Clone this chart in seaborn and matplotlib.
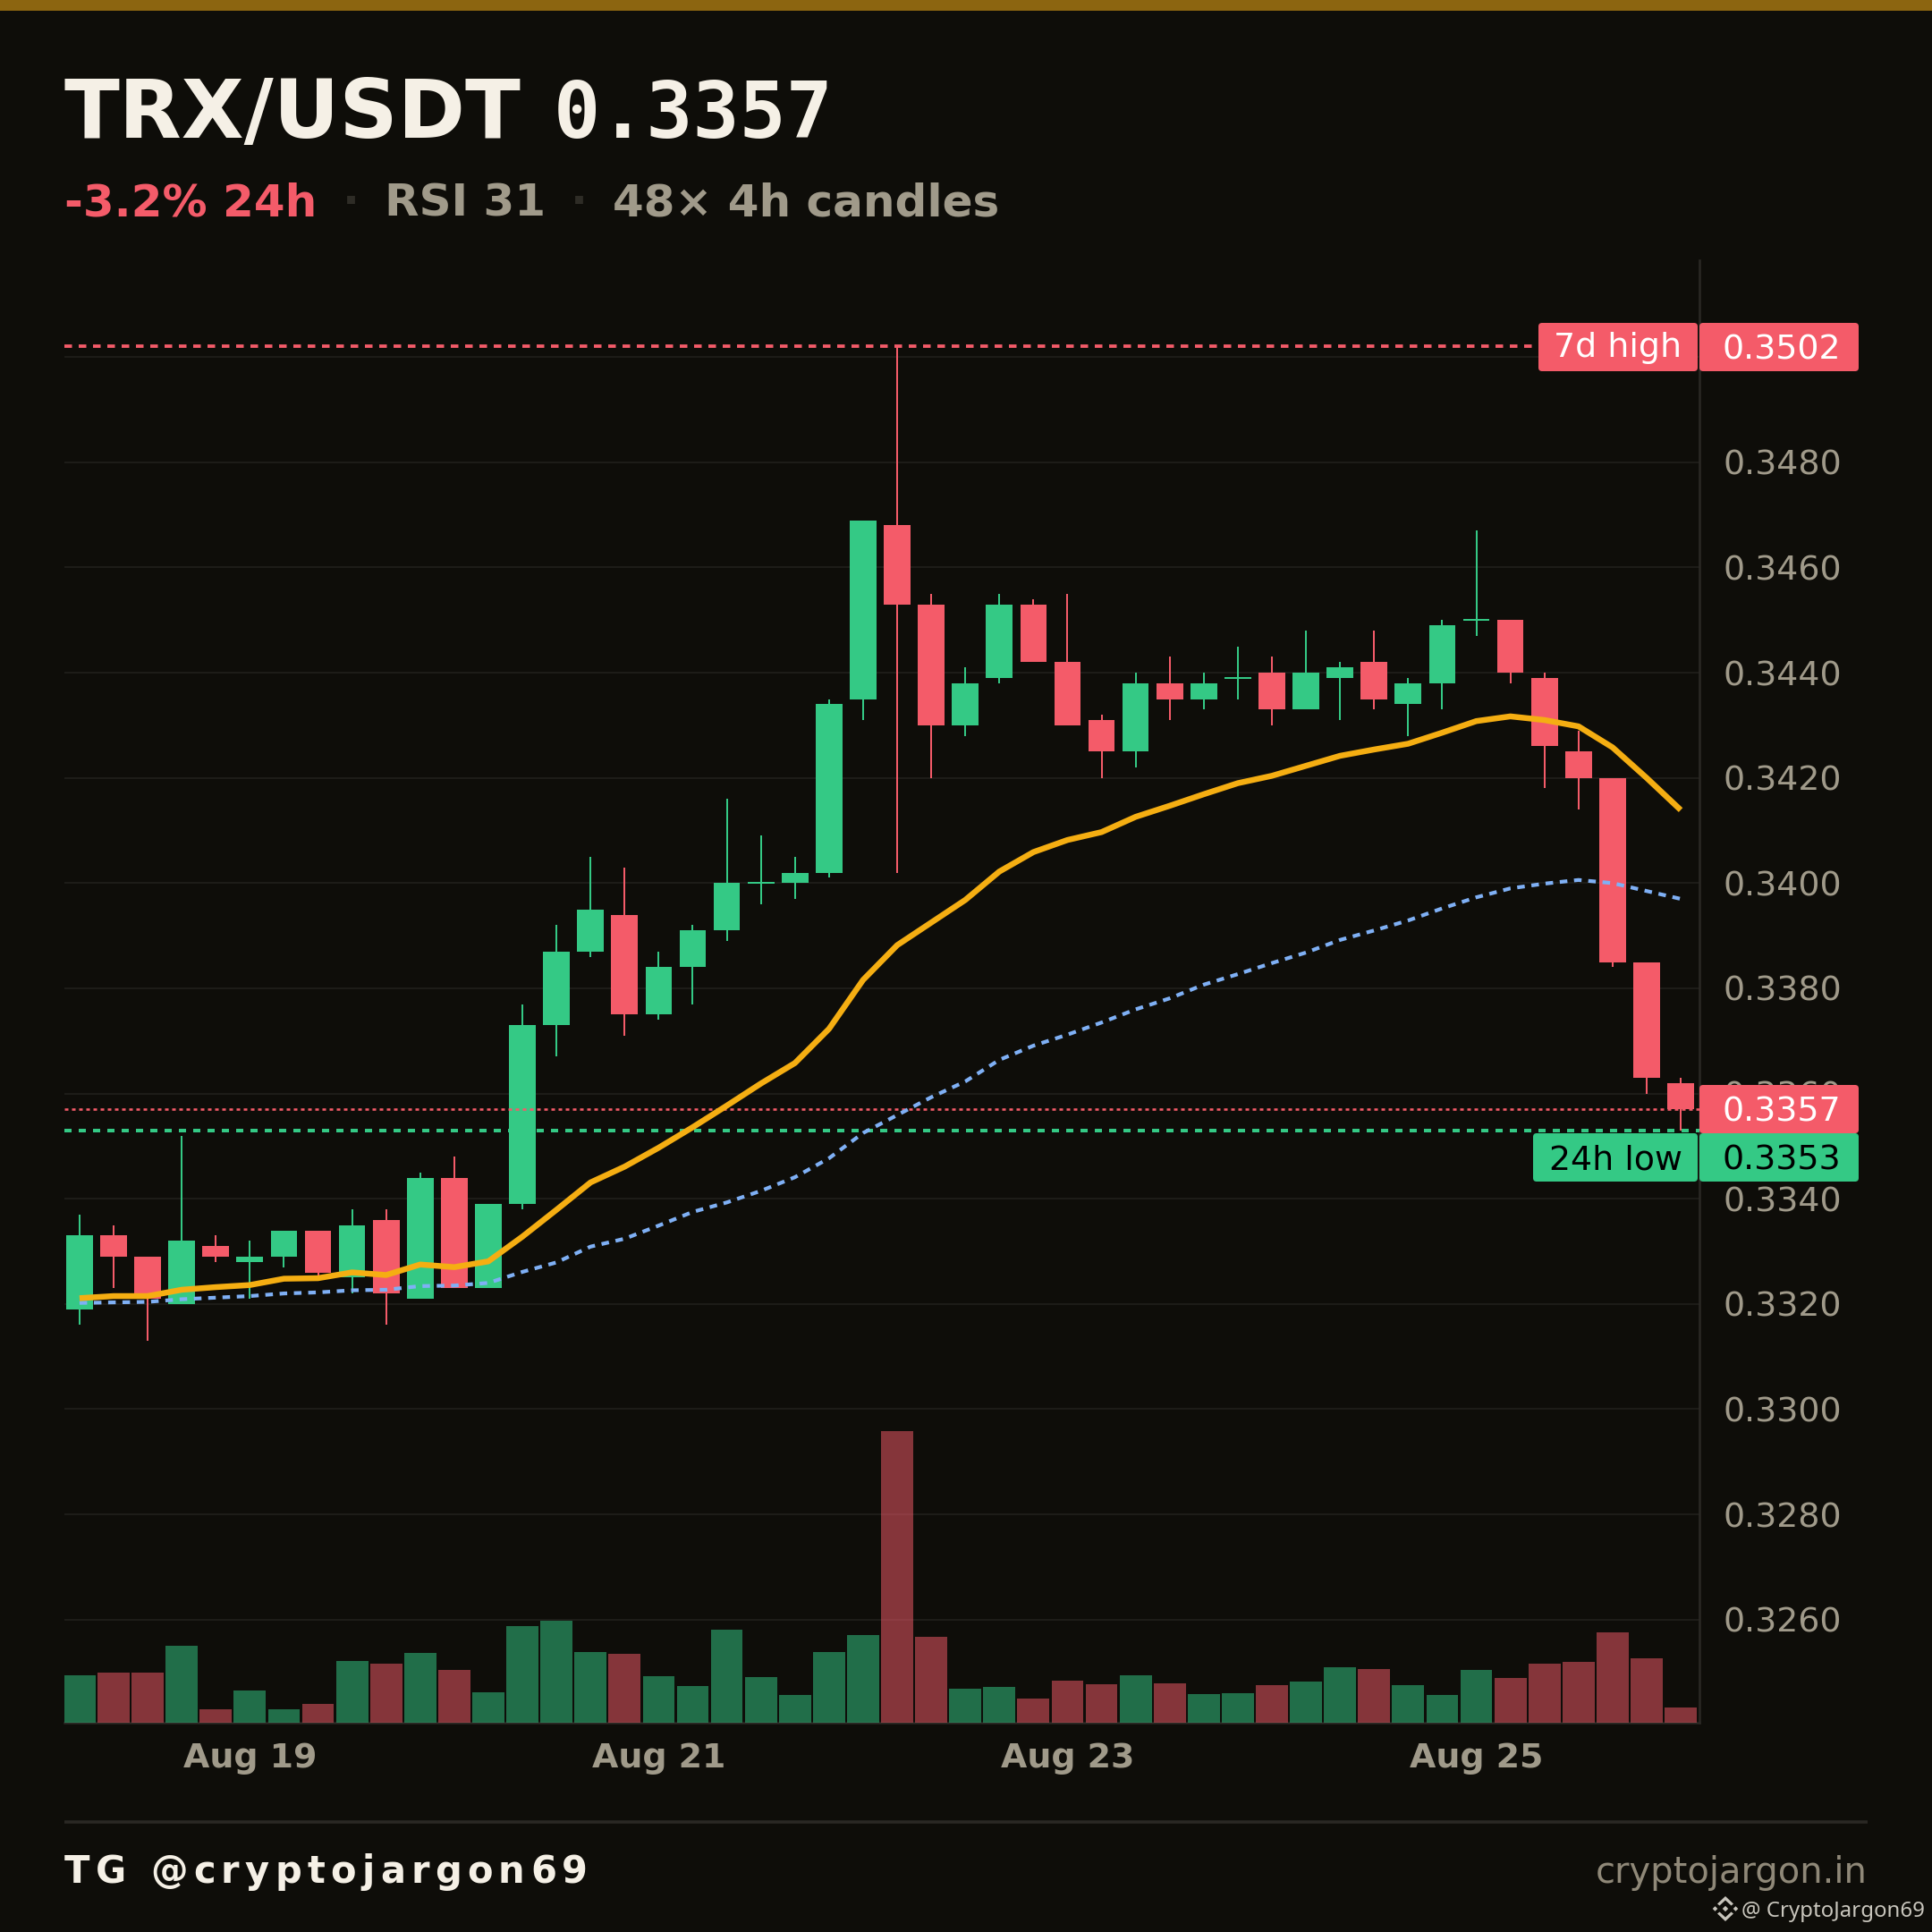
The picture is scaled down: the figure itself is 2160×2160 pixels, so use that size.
import matplotlib
matplotlib.use("Agg")
import matplotlib.pyplot as plt
import matplotlib.text as mtext
from matplotlib.patches import FancyBboxPatch, Polygon, Rectangle
from matplotlib.ticker import FuncFormatter
import pandas as pd
import seaborn as sns

# ---- data ----
opens = [0.3319,0.3333,0.3329,0.3320,0.3331,0.3328,0.3329,0.3334,0.3325,0.3336,0.3321,0.3344,
         0.3323,0.3339,0.3373,0.3387,0.3394,0.3375,0.3384,0.3391,0.3400,0.3400,0.3402,0.3435,
         0.3468,0.3453,0.3430,0.3439,0.3453,0.3442,0.3431,0.3425,0.3438,0.3435,0.3439,0.3440,
         0.3433,0.3439,0.3442,0.3434,0.3438,0.3450,0.3450,0.3439,0.3425,0.3420,0.3385,0.3362]
highs = [0.3337,0.3335,0.3329,0.3352,0.3333,0.3332,0.3334,0.3334,0.3338,0.3338,0.3345,0.3348,
         0.3339,0.3377,0.3392,0.3405,0.3403,0.3387,0.3392,0.3416,0.3409,0.3405,0.3435,0.3469,
         0.3502,0.3455,0.3441,0.3455,0.3454,0.3455,0.3432,0.3440,0.3443,0.3440,0.3445,0.3443,
         0.3448,0.3442,0.3448,0.3439,0.3450,0.3467,0.3450,0.3440,0.3429,0.3420,0.3385,0.3363]
lows  = [0.3316,0.3323,0.3313,0.3320,0.3328,0.3321,0.3327,0.3325,0.3322,0.3316,0.3321,0.3323,
         0.3323,0.3338,0.3367,0.3386,0.3371,0.3374,0.3377,0.3389,0.3396,0.3397,0.3401,0.3431,
         0.3402,0.3420,0.3428,0.3438,0.3442,0.3430,0.3420,0.3422,0.3431,0.3433,0.3435,0.3430,
         0.3433,0.3431,0.3433,0.3428,0.3433,0.3447,0.3438,0.3418,0.3414,0.3384,0.3360,0.3353]
closes = [0.3333,0.3329,0.3321,0.3332,0.3329,0.3329,0.3334,0.3326,0.3335,0.3322,0.3344,0.3323,
          0.3339,0.3373,0.3387,0.3395,0.3375,0.3384,0.3391,0.3400,0.3400,0.3402,0.3434,0.3469,
          0.3453,0.3430,0.3438,0.3453,0.3442,0.3430,0.3425,0.3438,0.3435,0.3438,0.3439,0.3433,
          0.3440,0.3441,0.3435,0.3438,0.3449,0.3450,0.3440,0.3426,0.3420,0.3385,0.3363,0.3357]
ma_fast = [0.33211,0.33215,0.33215,0.33227,0.33232,0.33236,0.33248,0.33249,0.33260,0.33255,0.33275,0.33270,
           0.33281,0.33328,0.33379,0.33431,0.33461,0.33497,0.33536,0.33577,0.33619,0.33658,0.33723,0.33816,
           0.33882,0.33925,0.33968,0.34022,0.34059,0.34082,0.34097,0.34126,0.34147,0.34169,0.34190,0.34204,
           0.34223,0.34242,0.34254,0.34265,0.34286,0.34308,0.34317,0.34310,0.34298,0.34258,0.34200,0.34139]
ma_slow = [0.33202,0.33203,0.33204,0.33209,0.33212,0.33215,0.33220,0.33222,0.33226,0.33227,0.33234,0.33235,
           0.33240,0.33261,0.33279,0.33309,0.33324,0.33349,0.33375,0.33393,0.33415,0.33441,0.33477,0.33525,
           0.33559,0.33593,0.33623,0.33664,0.33691,0.33712,0.33735,0.33760,0.33781,0.33807,0.33827,0.33848,
           0.33868,0.33892,0.33910,0.33929,0.33952,0.33973,0.33990,0.33999,0.34006,0.34000,0.33985,0.33970]
volumes = [53,56,56,86,15,36,15,21,69,66,78,59,34,108,114,79,77,52,41,104,51,31,79,98,
           326,96,38,40,27,47,43,53,44,32,33,42,46,62,60,42,31,59,50,66,68,101,72,17]
direction = ["up","down","down","up","down","up","up","down","up","down","up","down",
             "up","up","up","up","down","up","up","up","up","up","up","up",
             "down","down","up","up","down","down","down","up","down","up","up","down",
             "up","up","down","up","up","up","down","down","down","down","down","down"]
date_ticks = [5, 17, 29, 41]
date_labels = ["Aug 19", "Aug 21", "Aug 23", "Aug 25"]
price_ticks = [0.3260,0.3280,0.3300,0.3320,0.3340,0.3360,0.3380,0.3400,0.3420,0.3440,0.3460,0.3480,0.3500]
high_7d, low_24h, last_price = 0.3502, 0.3353, 0.3357

# ---- style ----
BG, RED, GREEN = "#0e0d09", "#f45b69", "#34c985"
MUTED, CREAM, RULE = "#a09a8a", "#f5f0e6", "#2a2824"
sns.set_theme(style="dark", rc={"lines.scale_dashes": False, "axes.facecolor": BG,
                                "figure.facecolor": BG, "savefig.facecolor": BG})
plt.rcParams["font.family"] = ["DejaVu Sans"]
PT = 72 / 200  # one output pixel in points

fig = plt.figure(figsize=(10.8, 10.8), dpi=200)
rect = [72/2160, 1-1926/2160, 1828/2160, 1635/2160]
axv = fig.add_axes(rect)
ax = axv.twinx()
axv.set_zorder(3); ax.set_zorder(2); axv.patch.set_visible(False); ax.patch.set_visible(True)
ax.patch.set_facecolor(BG)

df = pd.DataFrame({"i": range(48), "o": opens, "h": highs, "l": lows, "c": closes,
                   "fast": ma_fast, "slow": ma_slow, "vol": volumes, "dir": direction})
pal = {"up": GREEN, "down": RED}

# volume
sns.barplot(data=df, x="i", y="vol", hue="dir", palette=pal, dodge=False, native_scale=True,
            width=0.94, alpha=0.52, saturation=1, legend=False, linewidth=0, ax=axv)
axv.set_ylim(0, 1635)
axv.set_xlim(-0.444, 47.55)
axv.set_xlabel(""); axv.set_ylabel("")
axv.set_yticks([])
axv.set_xticks(date_ticks, date_labels, fontsize=13.65, fontweight="bold", color=MUTED)
axv.tick_params(axis="x", length=0, pad=8)
for s in axv.spines.values():
    s.set_visible(False)

# candles
cols = df["dir"].map(pal)
ax.vlines(df["i"], df["l"], df["h"], colors=cols, lw=2*PT, zorder=3)
body_lo = df[["o", "c"]].min(axis=1)
body_h = (df["c"] - df["o"]).abs()
ax.bar(df["i"], body_h, bottom=body_lo, width=0.78, color=cols, linewidth=0, zorder=4)
flat = df[df["o"] == df["c"]]
ax.hlines(flat["c"], flat["i"]-0.39, flat["i"]+0.39, colors=flat["dir"].map(pal), lw=2*PT, zorder=4)

# moving averages
sns.lineplot(data=df, x="i", y="slow", color="#7fb0f5", lw=4.2*PT, dashes=(8.5*PT, 7.5*PT),
             errorbar=None, ax=ax, zorder=6)
sns.lineplot(data=df, x="i", y="fast", color="#f5ae12", lw=6.5*PT, errorbar=None, ax=ax, zorder=6,
             solid_capstyle="butt")

# level lines
ax.plot([-0.444, 43.0], [high_7d]*2, color=RED, lw=3.8*PT, ls=(0, (8.5*PT, 7.5*PT)), zorder=5)
ax.axhline(low_24h, color=GREEN, lw=4*PT, ls=(0, (8*PT, 8*PT)), zorder=5)
ax.axhline(last_price, color=RED, lw=2.6*PT, ls=(0, (4*PT, 4*PT)), zorder=5)

ax.set_ylim(0.32404, 0.35184)
ax.set_xlim(-0.444, 47.55)
ax.set_xlabel(""); ax.set_ylabel("")
ax.set_yticks(price_ticks)
# the 0.3500 label sits wholly behind the 7d-high tag, so it is left blank
ax.yaxis.set_major_formatter(FuncFormatter(lambda v, _: "" if v > 0.349 else f"{v:.4f}"))
ax.tick_params(axis="y", length=0, pad=9.4, labelsize=13.65, labelcolor=MUTED, right=False)
ax.yaxis.tick_right()
ax.set_xticks(date_ticks)
ax.tick_params(axis="x", length=0, labelbottom=False)
ax.grid(True, axis="y", color="#1d1c18", lw=2*PT)
ax.grid(True, axis="x", color="#171612", lw=2*PT)
ax.set_axisbelow(True)
for name, s in ax.spines.items():
    s.set_visible(name in ("right", "bottom"))
    s.set_color(RULE); s.set_linewidth(2.6*PT)

# ---- page furniture, in output pixels ----
ov = fig.add_axes([0, 0, 1, 1], zorder=10)
ov.set_xlim(0, 2160); ov.set_ylim(2160, 0); ov.axis("off"); ov.patch.set_visible(False)
ov.add_patch(Rectangle((0, 0), 2160, 12, color="#8c6510", lw=0))

class Tracked(mtext.Text):
    """One text whose letters are spread by a fixed number of pixels."""
    tracking = 0
    def draw(self, renderer):
        s, prop = self.get_text(), self.get_fontproperties()
        x0, y0 = self.get_transform().transform(self.get_position())
        y = renderer.height - y0
        gc = renderer.new_gc(); gc.set_foreground(self.get_color())
        for k, ch in enumerate(s):
            w = renderer.get_text_width_height_descent(s[:k] + "|", prop, False)[0] - \
                renderer.get_text_width_height_descent("|", prop, False)[0] if k else 0
            renderer.draw_text(gc, x0 + w + k*self.tracking, y, ch, prop, 0)
        gc.restore()

def T(x, y, s, size, color, weight="normal", ha="left", family=None):
    ov.text(x, y, s, fontsize=size, color=color, fontweight=weight, ha=ha, va="baseline",
            family=family or "DejaVu Sans")

T(72, 154, "TRX/USDT", 32.65, CREAM, "bold")
T(619, 154, "0.3357", 31.2, CREAM, "bold", family="DejaVu Sans Mono")
T(72, 241, "-3.2% 24h", 18, RED, "bold")
T(392, 241, "·", 18, "#2e2c26", "bold", ha="center")
T(430, 241, "RSI 31", 18, MUTED, "bold")
T(647, 241, "·", 18, "#2e2c26", "bold", ha="center")
T(685, 241, "48× 4h candles", 18, MUTED, "bold")

def tag(x0, x1, y0, y1, s, bg, fg, tx=None, dy=14):
    ov.add_patch(FancyBboxPatch((x0+3, y0+3), x1-x0-6, y1-y0-6, boxstyle="round,pad=3,rounding_size=4",
                                fc=bg, ec="none", lw=0))
    ov.text(tx if tx else (x0+x1)/2, (y0+y1)/2+dy, s, fontsize=13.65, color=fg, va="baseline",
            ha="left" if tx else "center")

tag(1720, 1898, 361, 415, "7d high", RED, "white", dy=11)
tag(1900, 2078, 361, 415, "0.3502", RED, "white", 1926)
tag(1900, 2078, 1213, 1267, "0.3357", RED, "white", 1926)
tag(1714, 1898, 1267, 1321, "24h low", GREEN, "black")
tag(1900, 2078, 1267, 1321, "0.3353", GREEN, "black", 1926)

ov.plot([72, 2088], [2037, 2037], color=RULE, lw=3.5*PT, solid_capstyle="butt")
tg = Tracked(72, 2105, "TG @cryptojargon69", fontsize=15, color=CREAM, fontweight="bold",
             va="baseline", transform=ov.transData)
tg.tracking = 6.3
ov.add_artist(tg)
T(2088, 2105, "cryptojargon.in", 14.4, "#8f8878", ha="right")
T(1947, 2143, "@ CryptoJargon69", 8.65, "#c8c5bc", family="Noto Sans")

# small exchange logo beside the handle
cx, cy, LOGO = 1929, 2134, "#c8c5bc"
for dx, r in ((-11.5, 2.8), (11.5, 2.8), (0, 3.2)):
    ov.add_patch(Polygon([(cx+dx-r, cy), (cx+dx, cy-r), (cx+dx+r, cy), (cx+dx, cy+r)], fc=LOGO, ec="none"))
for sgn in (-1, 1):
    ov.add_patch(Polygon([(cx-9, cy+sgn*5.5), (cx, cy+sgn*14), (cx+9, cy+sgn*5.5), (cx+6.5, cy+sgn*3.5),
                          (cx, cy+sgn*9.5), (cx-6.5, cy+sgn*3.5)], fc=LOGO, ec="none"))

fig.savefig("out.png", dpi=200, facecolor=BG)
